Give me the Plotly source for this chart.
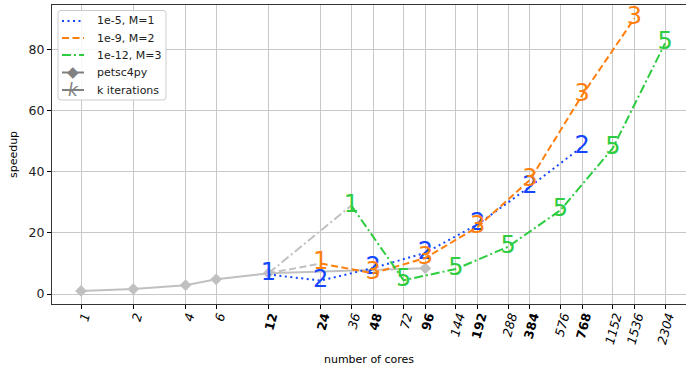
import plotly.graph_objects as go

# core counts shown on the x axis; bold ones are the 12*2^n runs
core_ticks = [1, 2, 4, 6, 12, 24, 36, 48, 72, 96, 144, 192, 288, 384, 576, 768, 1152, 1536, 2304]
bold_ticks = [12, 24, 48, 96, 192, 384, 768]

# petsc4py reference speedups
petsc_cores = [1, 2, 4, 6, 12, 96]
petsc_speedup = [1.0, 1.6, 2.9, 4.8, 6.8, 8.4]

# tolerance / M runs: cores, speedup and iteration count k at each point
s1_cores = [12, 24, 48, 96, 192, 384, 768]
s1_speedup = [6.4, 4.4, 8.5, 13.5, 22.8, 35.2, 48.3]
s1_k = ["1", "2", "2", "2", "2", "2", "2"]

s2_cores = [24, 48, 96, 192, 384, 768, 1536]
s2_speedup = [10.0, 6.8, 11.8, 22.0, 37.4, 65.2, 90.4]
s2_k = ["1", "3", "3", "3", "3", "3", "3"]

s3_cores = [36, 72, 144, 288, 576, 1152, 2304]
s3_speedup = [29.0, 4.5, 8.2, 15.5, 27.5, 47.8, 82.2]
s3_k = ["1", "5", "5", "5", "5", "5", "5"]

series = [
    ("1e-5, M=1", s1_cores, s1_speedup, s1_k, "#1446ff", "2px,3.5px"),
    ("1e-9, M=2", s2_cores, s2_speedup, s2_k, "#ff7f0e", "7px,3.5px"),
    ("1e-12, M=3", s3_cores, s3_speedup, s3_k, "#2ecc40", "9px,3px,2px,3px"),
]

LIGHT = "#c0c0c0"
FONT = "DejaVu Sans"
W, H = 686, 368
ML, MR, MT, MB = 52, 0, 5, 64
PW, PH = W - ML - MR, H - MT - MB

fig = go.Figure()

# petsc4py baseline
fig.add_trace(go.Scatter(
    x=petsc_cores, y=petsc_speedup, mode="lines+markers",
    line=dict(color=LIGHT, width=2),
    marker=dict(symbol="diamond", size=9, color=LIGHT),
    showlegend=False, hoverinfo="skip"))

# grey connectors from the 12-core baseline to the first point of each run
i12 = petsc_cores.index(12)
base_x, base_y = petsc_cores[i12], petsc_speedup[i12]
for name, xs, ys, ks, color, dash in series:
    fig.add_trace(go.Scatter(
        x=[base_x, xs[0]], y=[base_y, ys[0]], mode="lines",
        line=dict(color=LIGHT, width=2, dash=dash),
        showlegend=False, hoverinfo="skip"))

# each run, with its iteration count drawn as the marker
for name, xs, ys, ks, color, dash in series:
    fig.add_trace(go.Scatter(
        x=xs, y=ys, mode="lines+text", text=ks, name=name,
        textposition="middle center",
        textfont=dict(family=FONT, size=24, color=color),
        line=dict(color=color, width=2, dash=dash),
        showlegend=False, cliponaxis=False))


# legend box drawn in pixel positions converted to paper coordinates
def px(x):
    return (x - ML) / PW


def py(y):
    return 1 - (y - MT) / PH


shapes = []
annotations = []
x0, x1, y0, y1, r = 58, 166, 10.5, 100, 3
path = (f"M{px(x0 + r)},{py(y0)} L{px(x1 - r)},{py(y0)} "
        f"Q{px(x1)},{py(y0)} {px(x1)},{py(y0 + r)} L{px(x1)},{py(y1 - r)} "
        f"Q{px(x1)},{py(y1)} {px(x1 - r)},{py(y1)} L{px(x0 + r)},{py(y1)} "
        f"Q{px(x0)},{py(y1)} {px(x0)},{py(y1 - r)} L{px(x0)},{py(y0 + r)} "
        f"Q{px(x0)},{py(y0)} {px(x0 + r)},{py(y0)} Z")
shapes.append(dict(type="path", xref="paper", yref="paper", path=path,
                   fillcolor="rgba(255,255,255,0.85)", line=dict(color="#cccccc", width=1),
                   layer="above"))

rows = [21, 38, 55, 72.5, 90]
entries = [(s[0], s[4], s[5]) for s in series] + [("petsc4py", "gray", "solid"),
                                                   ("k iterations", "gray", "solid")]
for (label, color, dash), ry in zip(entries, rows):
    shapes.append(dict(type="line", xref="paper", yref="paper",
                       x0=px(62), x1=px(84), y0=py(ry), y1=py(ry),
                       line=dict(color=color, width=2, dash=dash), layer="above"))
    annotations.append(dict(xref="paper", yref="paper", x=px(95), y=py(ry),
                            xanchor="left", yanchor="middle", showarrow=False,
                            text=label, font=dict(family=FONT, size=11, color="#222")))
annotations.append(dict(xref="paper", yref="paper", x=px(73), y=py(rows[3]),
                        xanchor="center", yanchor="middle", showarrow=False,
                        text="\u25c6", font=dict(family=FONT, size=15, color="gray")))
annotations.append(dict(xref="paper", yref="paper", x=px(73), y=py(rows[4]),
                        xanchor="center", yanchor="middle", showarrow=False,
                        text="<i>k</i>", font=dict(family=FONT, size=17, color="gray")))

ticktext = [f"<b>{c}</b>" if c in bold_ticks else f"<i>{c}</i>" for c in core_ticks]

fig.update_layout(
    width=W, height=H,
    margin=dict(l=ML, r=MR, t=MT, b=MB),
    paper_bgcolor="white", plot_bgcolor="white",
    font=dict(family=FONT, size=12, color="#222"),
    showlegend=False,
    shapes=shapes, annotations=annotations,
    xaxis=dict(
        type="log", range=[-0.167, 3.483],
        tickvals=core_ticks, ticktext=ticktext, tickangle=-75,
        tickfont=dict(family=FONT, size=12.5, color="black"),
        ticklabelstandoff=-5, ticklabelshift=3,
        ticks="outside", ticklen=4, tickcolor="black",
        showgrid=True, gridcolor="#c8c8c8", gridwidth=1,
        showline=True, linecolor="#333", linewidth=1.2, mirror=True,
        zeroline=False,
        title=dict(text="number of cores", font=dict(family=FONT, size=11, color="black"), standoff=10),
    ),
    yaxis=dict(
        range=[-3.28, 94.75],
        tickvals=[0, 20, 40, 60, 80],
        tickfont=dict(family=FONT, size=12.5, color="#222"),
        ticks="outside", ticklen=4, tickcolor="black",
        showgrid=True, gridcolor="#c8c8c8", gridwidth=1,
        showline=True, linecolor="#333", linewidth=1.2, mirror=False,
        zeroline=False,
        title=dict(text="speedup", font=dict(family=FONT, size=11, color="black"), standoff=8),
    ),
)

fig.write_html("out.html")
